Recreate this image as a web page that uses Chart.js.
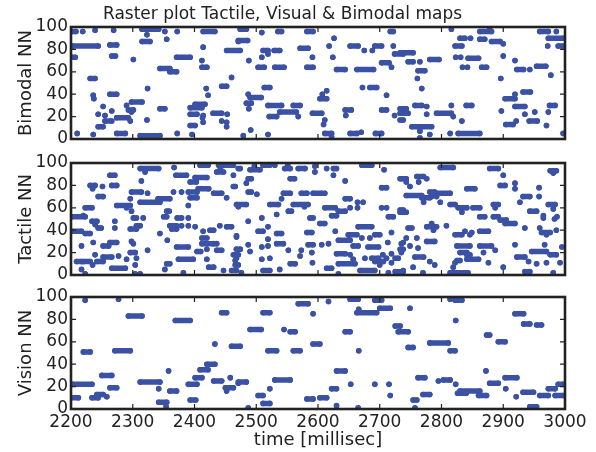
<!DOCTYPE html>
<html lang="en">
<head>
  <meta charset="UTF-8">
  <title>Raster plot Tactile, Visual &amp; Bimodal maps</title>
  <style>
    body { margin: 0; background: #fff; }
    #wrap { position: relative; width: 596px; height: 452px; }
    #wrap canvas { position: absolute; left: 0; top: 0; }
  </style>
  <script src="https://cdn.jsdelivr.net/npm/chart.js"></script>
</head>
<body>
<div id="wrap">
  <canvas id="bimodal" width="596" height="452"></canvas>
  <canvas id="tactile" width="596" height="452"></canvas>
  <canvas id="vision" width="596" height="452"></canvas>
</div>
<script>
  const timeTicks = [2200, 2300, 2400, 2500, 2600, 2700, 2800, 2900, 3000];
  const nnTicks = [0, 20, 40, 60, 80, 100];

  // spike runs: [first ms, last ms, neuron]
  const bimodalRuns = [
    [2202,2208,96],[2219,2219,96],[2239,2239,97],[2269,2269,97],[2315,2342,98],[2352,2352,96],[2372,2372,96],[2414,2433,96],
    [2323,2323,93],[2315,2328,87],[2355,2355,89],[2471,2471,87],
    [2203,2244,83],[2263,2274,84],[2414,2414,82],[2452,2474,79],
    [2201,2207,73],[2266,2272,74],[2301,2301,71],[2371,2393,73],[2412,2412,70],
    [2344,2360,63],[2360,2371,60],[2412,2420,64],
    [2231,2239,54],[2460,2460,55],
    [2324,2324,45],[2419,2419,45],[2444,2452,47],
    [2236,2236,39],[2263,2274,40],[2422,2422,39],
    [2237,2237,36],[2298,2315,33],[2290,2290,30],
    [2252,2252,29],[2293,2301,26],[2344,2352,27],[2401,2417,31],[2393,2412,28],
    [2244,2244,22],[2255,2255,21],[2266,2266,25],[2298,2298,24],[2393,2404,22],[2414,2414,21],[2430,2444,23],[2453,2453,22],
    [2274,2293,19],[2255,2266,16],[2323,2323,17],[2296,2296,16],[2413,2413,19],[2444,2444,16],[2452,2452,15],
    [2244,2252,11],[2393,2401,12],[2414,2414,15],[2452,2452,11],
    [2210,2210,5],[2236,2236,4],[2274,2288,5],[2312,2344,3],[2372,2372,5],[2396,2396,4],
    [2474,2484,98],[2509,2509,95],[2535,2541,96],[2582,2592,96],[2717,2722,96],
    [2471,2486,88],[2626,2626,90],
    [2511,2519,79],[2519,2519,76],[2529,2538,79],[2571,2584,81],[2618,2618,83],[2652,2665,83],[2675,2675,79],[2688,2688,79],[2692,2703,83],[2722,2722,83],[2724,2738,76],
    [2509,2509,73],[2591,2591,73],[2624,2624,73],[2488,2488,70],[2703,2715,68],
    [2503,2513,64],[2530,2545,64],[2582,2592,64],[2630,2644,62],[2663,2690,62],[2719,2719,64],
    [2513,2522,46],[2672,2672,46],[2684,2695,46],
    [2614,2614,43],[2607,2607,40],[2603,2614,36],[2711,2711,39],[2487,2487,40],[2490,2508,37],
    [2484,2492,32],[2488,2488,27],[2519,2541,30],[2560,2571,30],
    [2538,2565,24],[2521,2533,20],[2568,2568,20],[2591,2606,23],[2644,2654,26],[2645,2645,21],[2703,2711,26],[2724,2724,21],
    [2611,2611,17],[2609,2609,13],[2491,2491,8],
    [2479,2479,3],[2519,2519,4],[2611,2622,5],[2622,2622,2],[2652,2663,5],[2670,2670,6],[2693,2703,5],
    [2733,2743,27],[2733,2746,23],[2733,2738,17],
    [2816,2816,98],[2862,2881,96],[2878,2878,98],[2959,2973,96],[2986,2986,96],
    [2830,2838,90],[2847,2847,90],[2862,2870,89],[2881,2895,87],[2900,2900,85],[2973,2997,90],
    [2822,2833,83],[2972,2972,83],[2989,2997,83],
    [2733,2754,77],
    [2746,2754,69],[2765,2765,69],[2781,2796,71],
    [2823,2823,73],[2831,2831,73],[2843,2860,72],[2834,2834,64],[2842,2842,64],[2865,2873,64],
    [2900,2900,74],[2919,2919,70],[2922,2933,62],[2943,2943,62],[2954,2969,65],[2977,2977,57],
    [2762,2773,61],[2761,2761,54],[2896,2896,54],[2768,2768,45],
    [2903,2919,36],[2919,2919,40],[2932,2944,42],
    [2757,2768,30],[2776,2776,29],[2776,2776,22],[2816,2816,30],[2792,2816,23],[2819,2819,20],[2833,2833,16],[2840,2849,30],
    [2897,2897,25],[2919,2935,29],[2935,2935,22],[2951,2951,24],[2975,2984,30],[2973,2973,24],
    [2942,2955,16],[2904,2916,13],[2921,2921,16],[2970,2970,12],
    [2752,2784,11],[2765,2765,7],[2765,2765,1],[2781,2781,4],[2814,2814,5],[2827,2862,5],[2997,2997,5]
  ];

  const tactileRuns = [
    [2312,2342,95],[2367,2367,96],[2409,2422,98],[2439,2463,98],[2442,2442,95],[2471,2471,95],
    [2320,2320,92],[2263,2271,89],[2370,2387,89],[2401,2420,87],[2436,2447,92],[2463,2463,89],
    [2314,2314,84],[2393,2403,83],[2231,2239,80],[2235,2235,77],[2251,2251,79],[2266,2274,80],[2406,2423,77],[2463,2463,79],
    [2298,2314,74],[2324,2324,73],[2366,2366,74],[2379,2379,74],[2390,2404,74],[2431,2444,73],
    [2244,2252,70],[2296,2296,68],[2341,2360,68],[2393,2404,69],[2452,2452,69],
    [2312,2344,65],[2274,2296,62],[2290,2290,60],[2390,2390,62],[2471,2471,61],
    [2223,2234,60],[2355,2359,57],[2201,2223,52],[2220,2220,53],[2298,2298,57],[2301,2306,51],[2317,2317,51],[2350,2355,52],[2372,2379,51],[2390,2390,51],
    [2234,2242,48],[2239,2239,45],[2244,2249,42],[2271,2271,48],[2271,2271,42],[2306,2312,44],[2296,2306,41],[2360,2371,44],[2363,2371,41],[2379,2379,44],[2390,2390,44],[2401,2401,43],
    [2414,2414,39],[2425,2431,40],[2441,2441,44],[2452,2460,43],[2468,2468,34],
    [2200,2217,39],[2223,2231,37],[2344,2344,37],[2412,2420,33],
    [2217,2217,26],[2236,2236,29],[2252,2261,26],[2263,2274,29],[2298,2298,30],[2301,2301,28],[2356,2356,31],[2371,2390,25],[2412,2431,28],[2436,2436,28],[2468,2474,23],
    [2239,2239,18],[2252,2266,16],[2277,2277,17],[2296,2304,20],[2306,2306,15],[2324,2324,22],[2404,2410,21],[2420,2420,23],[2436,2444,22],[2463,2471,18],
    [2209,2217,12],[2220,2231,12],[2242,2252,12],[2290,2290,14],[2304,2304,9],[2355,2360,10],[2374,2398,14],[2420,2420,14],[2466,2466,13],
    [2235,2235,9],[2266,2288,6],[2352,2352,5],[2423,2431,7],[2447,2447,4],[2460,2468,4],[2466,2466,9],
    [2217,2217,5],[2223,2223,1],[2304,2304,1],[2312,2312,1],[2382,2382,2],
    [2474,2474,95],[2490,2506,94],[2497,2497,97],[2511,2522,98],[2530,2530,98],[2546,2555,95],[2551,2551,98],[2568,2579,95],[2595,2595,97],[2595,2595,92],
    [2614,2614,95],[2625,2630,95],[2625,2625,89],[2671,2687,98],[2707,2707,94],[2735,2735,86],
    [2487,2492,86],[2484,2484,82],[2555,2562,86],[2644,2644,84],[2703,2711,78],[2466,2466,79],
    [2487,2492,74],[2501,2501,72],[2544,2555,73],[2573,2582,73],[2592,2606,73],[2611,2611,73],
    [2541,2541,68],[2644,2652,68],[2664,2664,65],[2673,2673,65],
    [2468,2484,63],[2522,2536,63],[2560,2584,63],[2578,2578,61],[2611,2628,60],[2633,2644,57],[2652,2652,60],[2664,2664,60],[2703,2703,60],[2711,2711,60],
    [2714,2722,52],[2733,2738,58],[2552,2557,57],[2533,2533,54],[2509,2509,51],[2587,2592,51],[2622,2630,53],
    [2487,2487,48],[2603,2611,46],[2519,2519,43],[2665,2687,43],
    [2503,2511,39],[2533,2541,37],[2582,2590,38],[2628,2628,39],[2649,2663,36],[2692,2700,36],[2719,2719,38],
    [2468,2468,35],[2519,2519,32],[2633,2652,31],[2671,2671,33],[2684,2684,33],
    [2487,2487,27],[2509,2509,25],[2519,2519,26],[2533,2544,28],[2584,2592,27],[2606,2606,27],[2617,2617,28],[2657,2665,26],[2681,2698,25],[2713,2713,29],[2735,2735,28],
    [2468,2474,23],[2490,2490,21],[2552,2552,22],[2573,2573,22],[2590,2590,20],[2630,2644,19],[2652,2652,18],[2705,2705,18],[2719,2719,19],[2735,2735,20],
    [2468,2468,15],[2509,2509,14],[2522,2522,15],[2571,2571,17],[2676,2676,15],[2687,2698,15],[2711,2711,15],[2725,2730,15],
    [2471,2471,9],[2555,2563,10],[2591,2591,11],[2633,2660,10],[2657,2657,14],[2692,2706,12],[2700,2700,9],[2719,2719,11],
    [2511,2522,4],[2538,2538,5],[2614,2622,6],[2668,2692,4],[2725,2738,3],
    [2476,2476,2],[2633,2633,1],[2714,2714,2],
    [2798,2819,96],[2878,2892,95],[2976,2986,93],[2981,2981,91],
    [2733,2743,86],[2743,2743,83],[2760,2771,88],[2763,2763,83],[2776,2776,86],[2749,2749,79],[2900,2900,89],[2895,2903,80],[2919,2919,82],[2919,2919,77],[2958,2958,78],[2841,2854,77],
    [2781,2789,74],[2784,2784,70],[2771,2771,65],[2743,2768,71],[2768,2781,69],[2792,2814,73],[2792,2792,70],[2798,2798,65],
    [2927,2927,65],[2932,2943,70],[2958,2958,70],[2973,2984,63],[2981,2981,59],
    [2814,2822,63],[2827,2841,60],[2833,2833,56],[2851,2862,60],[2884,2892,63],[2887,2887,60],
    [2943,2954,57],[2965,2965,51],[2965,2965,53],[2987,2987,52],[2983,2983,50],
    [2733,2743,56],[2862,2870,52],[2884,2892,52],[2895,2905,49],[2903,2919,46],
    [2746,2752,42],[2776,2792,43],[2784,2784,46],[2787,2787,40],[2808,2808,44],[2935,2935,42],[2959,2959,42],[2962,2976,38],[2970,2970,36],[2986,2986,40],
    [2822,2833,36],[2838,2838,39],[2849,2849,38],[2846,2846,36],[2862,2876,39],
    [2743,2743,33],[2738,2738,29],[2760,2760,33],[2776,2789,30],[2749,2749,26],[2825,2846,26],[2862,2881,26],[2919,2919,27],[2967,2967,27],[2995,2995,25],
    [2733,2738,23],[2762,2762,24],[2830,2841,20],[2841,2846,18],[2868,2868,20],[2887,2887,22],[2946,2970,21],[2976,2986,18],
    [2757,2771,16],[2781,2781,12],[2789,2789,9],[2825,2830,13],[2822,2822,11],[2841,2860,14],[2876,2876,11],[2922,2935,16],[2941,2941,12],[2954,2954,10],[2970,2970,11],[2992,2992,11],
    [2754,2754,7],[2819,2819,7],[2900,2900,7],
    [2738,2738,4],[2770,2770,2],[2814,2843,2],[2935,2943,3],[2981,2981,2]
  ];

  const visionRuns = [
    [2223,2223,97],[2277,2277,98],[2293,2315,83],[2369,2393,79],[2444,2452,86],
    [2220,2231,51],[2271,2296,52],[2433,2433,58],[2460,2474,56],
    [2358,2358,34],[2250,2266,30],[2401,2412,28],[2409,2422,35],[2420,2433,40],
    [2202,2234,22],[2312,2344,24],[2390,2404,22],[2431,2444,25],[2458,2458,28],
    [2263,2274,19],[2342,2342,18],[2360,2371,16],[2450,2463,19],[2452,2452,16],[2471,2471,23],
    [2242,2252,13],[2258,2258,11],[2200,2212,10],[2234,2244,10],[2393,2402,8],[2342,2355,6],[2354,2354,2],
    [2568,2584,94],[2617,2617,96],[2652,2665,98],[2692,2703,97],
    [2511,2522,86],[2592,2592,85],[2663,2695,86],[2666,2666,89],[2700,2717,90],
    [2725,2733,74],[2730,2746,69],[2490,2508,71],[2545,2545,71],[2555,2563,69],[2644,2652,69],
    [2519,2533,52],[2560,2571,52],[2592,2603,58],[2666,2666,52],
    [2630,2644,34],[2471,2484,24],[2530,2555,26],[2653,2653,22],[2692,2692,22],[2715,2715,22],
    [2522,2522,18],[2622,2630,18],[2503,2511,12],[2717,2717,12],[2603,2614,10],[2582,2592,9],[2511,2522,5],[2487,2487,1],[2630,2630,3],[2665,2665,1],
    [2814,2814,98],[2822,2833,97],[2749,2749,90],[2919,2933,85],[2823,2823,79],[2933,2943,76],[2954,2962,75],
    [2873,2878,66],[2892,2903,60],[2781,2811,59],[2746,2754,55],[2814,2822,52],
    [2872,2872,34],[2762,2773,28],[2903,2922,28],[2795,2795,25],[2803,2814,26],[2823,2823,22],[2878,2892,23],[2989,2997,22],
    [2904,2904,18],[2973,2984,18],[2830,2862,16],[2826,2840,14],[2770,2781,13],[2860,2873,12],[2932,2949,15],[2959,2973,12],[2984,2997,12],
    [2921,2921,11],[2754,2760,8],[2757,2757,1],[2943,2954,2]
  ];

  const dotColor = '#3b52a4';
  const fontFamily = "'DejaVu Sans', sans-serif";

  // frame with inward ticks on all four sides, like the matplotlib axes
  const framePlugin = {
    id: 'frame',
    afterDatasetsDraw(chart) {
      const { ctx, chartArea: a, scales: { x, y } } = chart;
      ctx.save();
      ctx.strokeStyle = '#222';
      ctx.lineWidth = 1.2;
      ctx.beginPath();
      timeTicks.slice(1, -1).forEach(v => {
        const px = x.getPixelForValue(v);
        ctx.moveTo(px, a.bottom); ctx.lineTo(px, a.bottom - 5);
        ctx.moveTo(px, a.top); ctx.lineTo(px, a.top + 5);
      });
      nnTicks.slice(1, -1).forEach(v => {
        const py = y.getPixelForValue(v);
        ctx.moveTo(a.left, py); ctx.lineTo(a.left + 5, py);
        ctx.moveTo(a.right, py); ctx.lineTo(a.right - 5, py);
      });
      ctx.stroke();
      ctx.lineWidth = 2.6;
      ctx.strokeRect(a.left, a.top, a.right - a.left, a.bottom - a.top);
      ctx.restore();
    }
  };

  function runsToPoints(runs) {
    const pts = [];
    runs.forEach(([t0, t1, n]) => {
      pts.push({ x: t0, y: n });
      if (t1 !== t0) pts.push({ x: t1, y: n });
      pts.push({ x: t1 + 0.5, y: null });
    });
    return pts;
  }

  function makePanel(id, runs, yLabel, opts) {
    new Chart(document.getElementById(id), {
      type: 'line',
      data: {
        datasets: [{
          data: runsToPoints(runs),
          borderColor: dotColor,
          backgroundColor: dotColor,
          borderWidth: 5.5,
          borderCapStyle: 'round',
          pointRadius: 2.8,
          pointBorderWidth: 0,
          pointBackgroundColor: dotColor,
          spanGaps: false,
          clip: 0
        }]
      },
      options: {
        responsive: false,
        animation: false,
        devicePixelRatio: 1,
        layout: { padding: { top: opts.padTop, bottom: opts.padBottom, left: 0, right: 31 } },
        plugins: {
          legend: { display: false },
          tooltip: { enabled: false },
          title: {
            display: !!opts.title,
            text: opts.title || '',
            color: '#222',
            font: { family: fontFamily, size: 17, weight: 'normal' },
            padding: { top: 4, bottom: 2.6 }
          }
        },
        scales: {
          x: {
            type: 'linear',
            min: 2200,
            max: 3000,
            display: !!opts.showX,
            afterBuildTicks: s => { s.ticks = timeTicks.map(v => ({ value: v })); },
            afterFit: s => { s.height = opts.showX ? 43 : 0; },
            grid: { display: false, drawTicks: false },
            border: { display: false },
            ticks: {
              autoSkip: false,
              maxRotation: 0,
              padding: 3,
              color: '#222',
              font: { family: fontFamily, size: 17 },
              callback: v => String(v)
            },
            title: {
              display: true,
              text: 'time [millisec]',
              color: '#222',
              font: { family: fontFamily, size: 18 },
              padding: { top: 0, bottom: 1 }
            }
          },
          y: {
            type: 'linear',
            min: 0,
            max: 100,
            afterBuildTicks: s => { s.ticks = nnTicks.map(v => ({ value: v })); },
            afterFit: s => { s.width = 71; },
            grid: { display: false, drawTicks: false },
            border: { display: false },
            ticks: {
              autoSkip: false,
              padding: 3,
              color: '#222',
              font: { family: fontFamily, size: 17 }
            },
            title: {
              display: true,
              text: yLabel,
              color: '#222',
              font: { family: fontFamily, size: 18 },
              padding: { top: 16, bottom: 0 }
            }
          }
        }
      },
      plugins: [framePlugin]
    });
  }

  makePanel('bimodal', bimodalRuns, 'Bimodal NN', { title: 'Raster plot Tactile, Visual & Bimodal maps', padTop: 0, padBottom: 313 });
  makePanel('tactile', tactileRuns, 'Tactile NN', { padTop: 163, padBottom: 177 });
  makePanel('vision', visionRuns, 'Vision NN', { padTop: 297, padBottom: 0, showX: true });
</script>
</body>
</html>
